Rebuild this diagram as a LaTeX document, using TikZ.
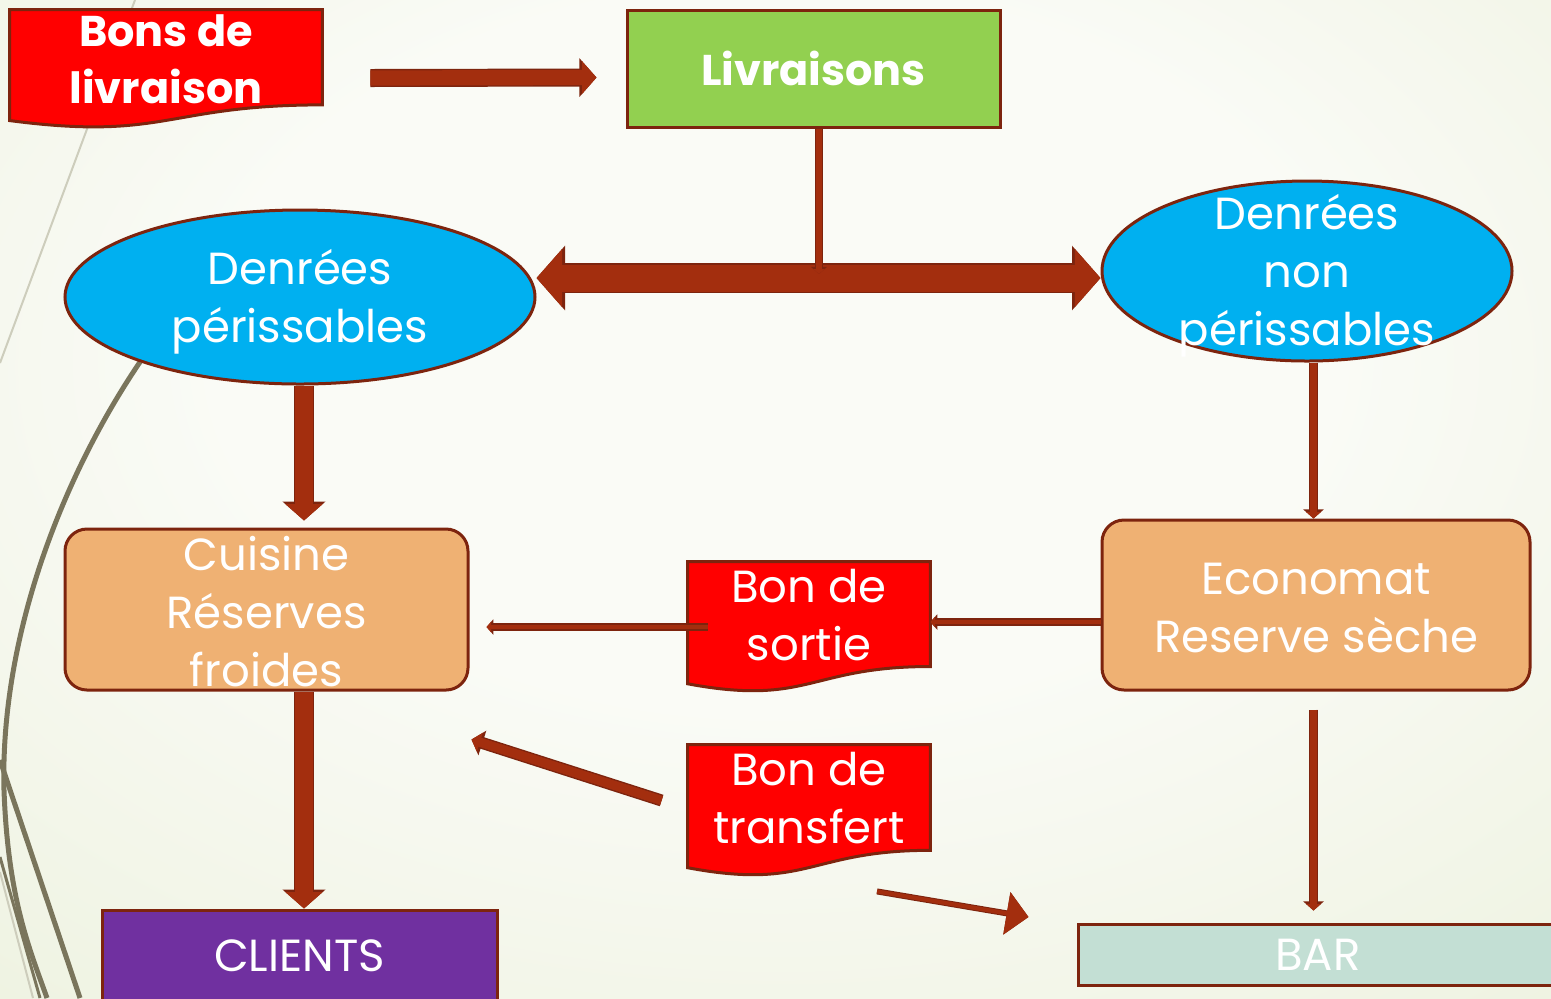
\documentclass[tikz,border=0pt]{standalone}
\usepackage{fontspec}
\setmainfont{Poppins}
\usepackage{tikz}
\usetikzlibrary{arrows.meta,calc,shapes.geometric}
\definecolor{bgIn}{RGB}{250,251,246}
\definecolor{bgOut}{RGB}{221,230,194}
\definecolor{decoLine}{RGB}{122,117,92}
\definecolor{decoFaint}{RGB}{205,205,188}
\definecolor{rust}{RGB}{163,46,14}
\definecolor{rustDark}{RGB}{125,36,14}
\definecolor{docRed}{RGB}{255,0,0}
\definecolor{livGreen}{RGB}{146,208,80}
\definecolor{skyBlue}{RGB}{0,176,240}
\definecolor{peach}{RGB}{239,177,115}
\definecolor{cliPurple}{RGB}{112,48,160}
\definecolor{barMint}{RGB}{195,223,212}
\pgfdeclareradialshading{bgGlow}{\pgfpoint{0bp}{10bp}}{color(0bp)=(bgIn); color(18bp)=(bgIn); color(72bp)=(bgOut)}
% document-like box (flat top, wavy bottom) round an empty frame node
\newcommand\docshape[1]{%
  \path[docfill] (#1.north west) -- (#1.north east)
    -- ($(#1.north east)!0.802!(#1.south east)$)
    .. controls ($(#1.north)!0.802!(#1.south)$) and ($(#1.north)!1.107!(#1.south)$)
    .. ($(#1.north west)!0.934!(#1.south west)$) -- cycle;}

\begin{document}
\begin{tikzpicture}[
  x=0.5pt, y=-0.5pt,
  font=\fontsize{22.5}{29}\selectfont,
  shp/.style={draw=rustDark, line width=1.5pt, inner sep=0pt},
  frame/.style={inner sep=0pt},
  docfill/.style={draw=rustDark, line width=1.5pt, fill=docRed},
  txt/.style={text=white, align=center, inner sep=0pt},
  bold/.style={txt, font=\fontsize{21.5}{28.5}\selectfont\bfseries},
  flowtip/.tip={Triangle[length=0pt 0.95, width=0pt 2.1]},
  flow/.style 2 args={draw=rust, line width=#1, -flowtip, preaction={draw=rustDark, line width=#2}},
  thinflow/.style={draw=rust, line width=2pt, -{Triangle[length=11pt, width=21pt]}, preaction={draw=rustDark, line width=3pt}},
  deco/.style={draw=decoLine, line width=2.5pt}
]
\useasboundingbox (0,0) rectangle (1551,998);
\clip (0,0) rectangle (1551,998);
\shade[shading=bgGlow] (0,0) rectangle (1551,998);

% swooshes on the left
\draw[decoFaint, line width=1pt] (135,0) -- (0,363);
\draw[deco] (140,362) .. controls (60,480) and (0,640) .. (4,790) .. controls (8,900) and (30,950) .. (47,998);
\draw[deco] (0,760) -- (80,998);
\draw[deco, line width=1.5pt] (0,857) -- (40,998);
\draw[decoFaint, line width=1pt] (0,872) -- (33,998);

% boxes
\node[frame, minimum width=156pt, minimum height=59pt] (bl) at (166,69) {};
\docshape{bl}
\node[bold] (blT) at ([yshift=5pt]bl.center) {Bons de\\livraison};

\node[shp, bold, fill=livGreen, minimum width=186.5pt, minimum height=58.5pt] (liv) at (813.5,68.5) {Livraisons};

\node[shp, ellipse, fill=skyBlue, minimum width=235pt, minimum height=87pt] (dp) at (300,297) {};
\node[txt] (dpT) at ([yshift=-2.5pt]dp.center) {Denrées\\périssables};
\node[shp, ellipse, fill=skyBlue, minimum width=205pt, minimum height=90pt] (dnp) at (1307,271) {};
\node[txt] (dnpT) at ([yshift=-2.5pt]dnp.center) {Denrées\\non\\périssables};

\node[shp, fill=peach, rounded corners=11pt, minimum width=201.5pt, minimum height=80.5pt] (cui) at (266.5,609.5) {};
\node[txt] (cuiT) at ([yshift=-1pt]cui.center) {Cuisine\\Réserves\\froides};
\node[shp, fill=peach, rounded corners=11pt, minimum width=214pt, minimum height=85pt] (eco) at (1316,605) {};
\node[txt] (ecoT) at ([yshift=-1.5pt]eco.center) {Economat\\Reserve sèche};

\node[frame, minimum width=121pt, minimum height=65pt] (bs) at (809,627) {};
\docshape{bs}
\node[txt] (bsT) at ([yshift=6pt]bs.center) {Bon de\\sortie};
\node[frame, minimum width=121pt, minimum height=65.5pt] (bt) at (809,810.5) {};
\docshape{bt}
\node[txt] (btT) at ([yshift=6pt]bt.center) {Bon de\\transfert};

\node[shp, txt, fill=cliPurple, minimum width=197.5pt, minimum height=46pt] (cli) at (299.5,956) {CLIENTS};
\node[shp, txt, fill=barMint, minimum width=240pt, minimum height=30.5pt] (bar) at (1318,954.5) {BAR};

% arrows
\coordinate (hub) at (819,278);
\draw[flow={7.6pt}{9pt}] ([xshift=24pt,yshift=-4.5pt]bl.east) -- ([xshift=-14.5pt,yshift=-4.5pt]liv.west);
\draw[flow={13.5pt}{15pt}, flowtip-flowtip] (hub -| dp.east) -- (hub -| dnp.west);
\draw[flow={2.6pt}{3.8pt}, shorten >=2pt] (liv.south -| hub) -- (hub);
\draw[flow={8.6pt}{10pt}, shorten >=3.5pt] ([xshift=2pt]dp.south) -- ([xshift=2pt]dp.south |- cui.north);
\draw[flow={3.4pt}{4.8pt}] ([xshift=3.25pt]dnp.south) -- ([xshift=3.25pt]dnp.south |- eco.north);
\draw[flow={2.4pt}{3.6pt}] ([yshift=-8.5pt]eco.west) -- ([yshift=-8.5pt]eco.west -| bs.east);
\draw[flow={2.4pt}{3.6pt}, shorten >=8.5pt] ([xshift=10pt]bs.west) -- (bs.west -| cui.east);
\draw[flow={4.6pt}{6pt}] ([xshift=-13pt,yshift=5pt]bt.west) -- ([xshift=1pt,yshift=-24pt]cui.south east);
\draw[thinflow] ([xshift=34pt,yshift=-7.5pt]bt.south) -- ([xshift=-24pt,yshift=18.75pt]bar.west);
\draw[flow={8.6pt}{10pt}] ([xshift=18.75pt]cui.south) -- ([xshift=18.75pt]cui.south |- cli.north);
\draw[flow={3.4pt}{4.8pt}, shorten >=6pt] ([xshift=-1.25pt,yshift=-9pt]eco.south) -- ([xshift=-1.25pt]eco.south |- bar.north);
\end{tikzpicture}
\end{document}
